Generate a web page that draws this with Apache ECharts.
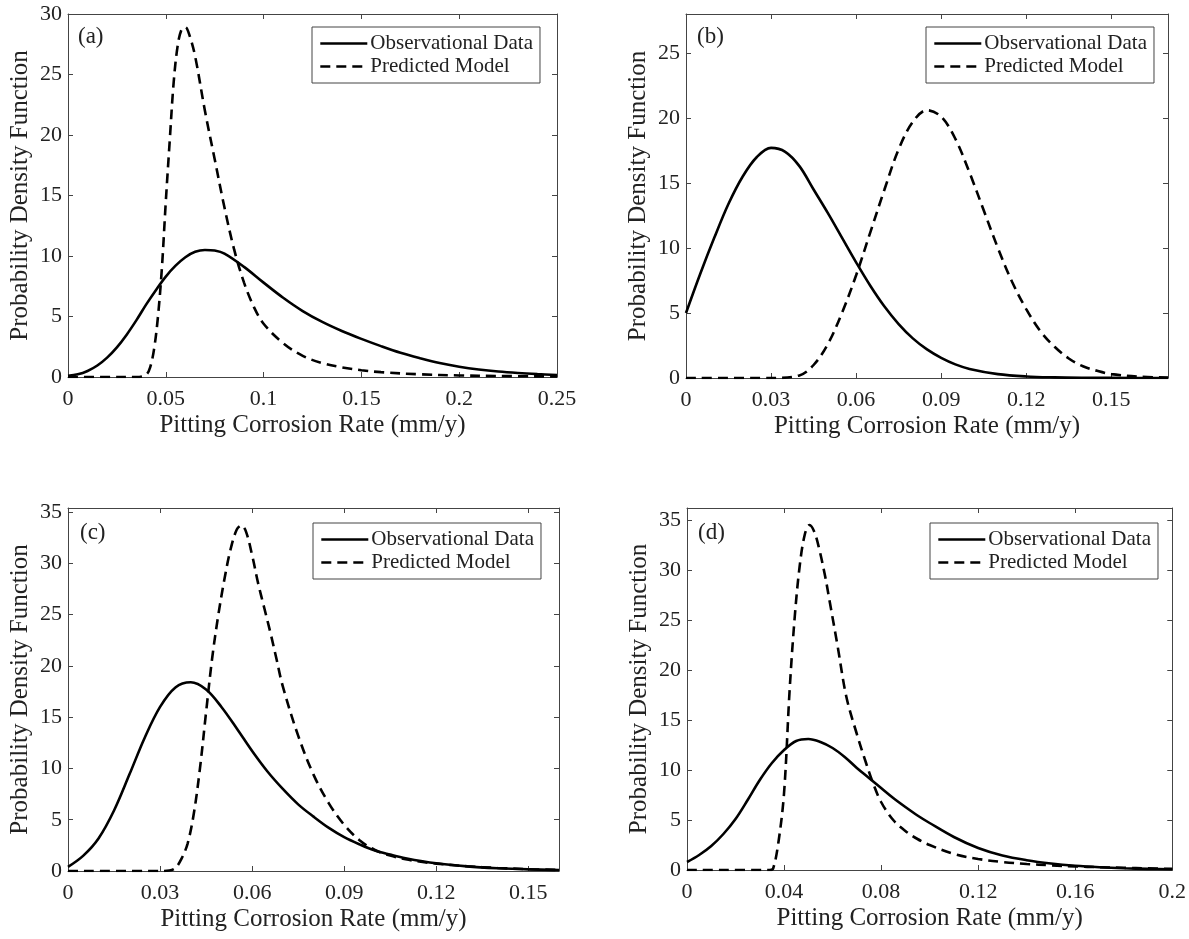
<!DOCTYPE html>
<html>
<head>
<meta charset="utf-8">
<script src="https://cdn.jsdelivr.net/npm/echarts@6/dist/echarts.min.js"></script>
<style>
html,body{margin:0;padding:0;background:#fff;}
#chart{width:1189px;height:939px;}
</style>
</head>
<body>
<div id="chart"></div>
<script>
// ---------- DATA ----------
const legendNames = ['Observational Data', 'Predicted Model'];
const panelLabels = ['(a)', '(b)', '(c)', '(d)'];
const xTitle = 'Pitting Corrosion Rate (mm/y)';
const yTitle = 'Probability Density Function';

// Panel (a)
const a_obs_x = [0,0.005,0.01,0.015,0.02,0.025,0.03,0.035,0.04,0.045,0.05,0.055,0.06,0.065,0.07,0.075,0.08,0.09,0.10,0.11,0.12,0.13,0.14,0.15,0.16,0.17,0.18,0.19,0.20,0.21,0.22,0.23,0.24,0.25];
const a_obs_y = [0.1,0.22,0.5,0.95,1.6,2.45,3.5,4.7,6.0,7.2,8.3,9.2,9.9,10.35,10.5,10.45,10.2,9.1,7.8,6.55,5.45,4.55,3.8,3.15,2.55,2.0,1.55,1.15,0.85,0.62,0.45,0.33,0.24,0.17];
const a_pred_x = [0,0.02,0.035,0.04,0.042,0.044,0.046,0.048,0.05,0.052,0.054,0.056,0.058,0.06,0.062,0.065,0.07,0.075,0.08,0.085,0.09,0.095,0.10,0.11,0.12,0.13,0.14,0.15,0.16,0.18,0.20,0.22,0.25];
const a_pred_y = [0,0,0,0.2,0.8,2.3,5.0,9.0,14.5,19.5,24.3,27.3,28.7,28.9,28.3,26.5,22.0,18.0,14.0,10.5,7.8,5.8,4.4,2.8,1.75,1.15,0.8,0.56,0.4,0.22,0.13,0.08,0.04];

// Panel (b)
const b_obs_x = [0,0.005,0.01,0.015,0.02,0.025,0.03,0.035,0.04,0.045,0.05,0.055,0.06,0.065,0.07,0.075,0.08,0.085,0.09,0.095,0.10,0.11,0.12,0.13,0.14,0.15,0.17];
const b_obs_y = [5.0,8.0,10.8,13.4,15.5,17.0,17.7,17.4,16.3,14.5,12.7,10.8,8.9,7.1,5.5,4.15,3.05,2.2,1.55,1.05,0.7,0.3,0.12,0.05,0.02,0.01,0];
const b_pred_x = [0,0.03,0.04,0.045,0.05,0.055,0.06,0.065,0.07,0.075,0.08,0.085,0.09,0.095,0.10,0.105,0.11,0.115,0.12,0.125,0.13,0.135,0.14,0.145,0.15,0.16,0.17];
const b_pred_y = [0,0,0.2,1.0,2.6,5.0,7.9,11.2,14.5,17.6,19.7,20.6,20.1,18.4,15.8,12.9,10.0,7.4,5.3,3.6,2.4,1.5,0.9,0.55,0.3,0.1,0.03];

// Panel (c)
const c_obs_x = [0,0.005,0.01,0.015,0.02,0.025,0.03,0.035,0.04,0.045,0.05,0.055,0.06,0.065,0.07,0.075,0.08,0.085,0.09,0.095,0.10,0.105,0.11,0.12,0.13,0.14,0.15,0.16];
const c_obs_y = [0.4,1.5,3.2,5.9,9.4,13.0,16.0,17.9,18.4,17.7,16.0,13.9,11.7,9.7,8.0,6.5,5.3,4.2,3.3,2.6,2.0,1.6,1.25,0.75,0.45,0.27,0.16,0.1];
const c_pred_x = [0,0.03,0.033,0.035,0.037,0.039,0.041,0.043,0.045,0.047,0.049,0.051,0.053,0.055,0.0565,0.058,0.06,0.062,0.064,0.066,0.068,0.07,0.075,0.08,0.085,0.09,0.095,0.10,0.105,0.11,0.115,0.12,0.13,0.14,0.15,0.16];
const c_pred_y = [0,0,0.05,0.3,1.2,2.7,5.6,10.0,15.5,20.8,25.0,28.5,31.4,33.3,33.7,33.1,30.8,28.0,25.6,23.2,20.6,18.0,13.2,9.4,6.6,4.5,3.0,2.05,1.5,1.15,0.9,0.72,0.46,0.3,0.18,0.1];

// Panel (d)
const d_obs_x = [0,0.005,0.01,0.015,0.02,0.025,0.03,0.035,0.04,0.045,0.05,0.055,0.06,0.065,0.07,0.075,0.08,0.085,0.09,0.095,0.10,0.11,0.12,0.13,0.14,0.15,0.16,0.17,0.18,0.19,0.20];
const d_obs_y = [0.8,1.5,2.4,3.6,5.1,7.0,9.0,10.7,12.0,12.9,13.1,12.8,12.2,11.3,10.2,9.2,8.2,7.2,6.3,5.45,4.7,3.3,2.2,1.45,0.98,0.65,0.42,0.27,0.17,0.11,0.07];
const d_pred_x = [0,0.034,0.0355,0.0377,0.04,0.0423,0.0444,0.0464,0.0485,0.0505,0.0525,0.0546,0.057,0.0587,0.062,0.0657,0.07,0.0738,0.0765,0.08,0.085,0.09,0.095,0.10,0.11,0.12,0.13,0.14,0.15,0.16,0.17,0.18,0.19,0.20];
const d_pred_y = [0,0,0.15,2.8,7.7,18.0,25.3,30.3,33.5,34.5,33.8,32.0,29.3,27.0,22.5,17.3,13.6,10.7,8.8,6.8,5.0,3.9,3.1,2.5,1.6,1.1,0.8,0.6,0.47,0.36,0.28,0.22,0.16,0.12];

// Axis ranges / tick steps
const xMax = [0.25, 0.17, 0.16, 0.2];
const xStep = [0.05, 0.03, 0.03, 0.04];
const yMax = [30, 28, 35.4, 36.2];
const yStep = [5, 5, 5, 5];

// ---------- LAYOUT / STYLE ----------
const FONT = '"Liberation Serif", "Times New Roman", serif';
const TXT = '#222';
const AX = '#444';
const grids = [
  {left: 68, top: 14, width: 489, height: 363},
  {left: 686, top: 14, width: 482, height: 364},
  {left: 68, top: 508, width: 491, height: 363},
  {left: 687, top: 508, width: 487, height: 362}
];
const legendPos = [
  {left: 312, top: 27},
  {left: 926, top: 27},
  {left: 313, top: 523},
  {left: 930, top: 523}
];
const labelPos = [[78, 25], [697, 25], [80, 521], [698, 521]];

const obsX = [a_obs_x, b_obs_x, c_obs_x, d_obs_x];
const obsY = [a_obs_y, b_obs_y, c_obs_y, d_obs_y];
const predX = [a_pred_x, b_pred_x, c_pred_x, d_pred_x];
const predY = [a_pred_y, b_pred_y, c_pred_y, d_pred_y];

function zip(xs, ys) { return xs.map((x, i) => [x, ys[i]]); }
function isMult(v, step) { const r = v / step; return Math.abs(r - Math.round(r)) < 1e-6; }
function fmt(v) { return String(parseFloat(v.toFixed(4))); }

const option = {
  animation: false,
  backgroundColor: '#fff',
  grid: [], xAxis: [], yAxis: [], series: [], legend: [], graphic: []
};

for (let p = 0; p < 4; p++) {
  option.grid.push(Object.assign({containLabel: false}, grids[p]));
  const axLine = {show: true, onZero: false, lineStyle: {color: AX, width: 1}};
  const tick = {show: true, inside: true, length: 5, lineStyle: {color: AX, width: 1}};
  option.xAxis.push({
    type: 'value', gridIndex: p, position: 'bottom', min: 0, max: xMax[p], interval: xStep[p],
    axisLine: axLine, axisTick: tick, splitLine: {show: false},
    axisLabel: {show: true, margin: 11, color: TXT, fontFamily: FONT, fontSize: 22,
      formatter: v => isMult(v, xStep[p]) ? fmt(v) : ''},
    name: xTitle, nameLocation: 'middle', nameGap: 36,
    nameTextStyle: {color: TXT, fontFamily: FONT, fontSize: 25}
  });
  option.xAxis.push({
    type: 'value', gridIndex: p, position: 'top', min: 0, max: xMax[p], interval: xStep[p],
    axisLine: axLine, axisTick: tick, splitLine: {show: false}, axisLabel: {show: false}
  });
  option.yAxis.push({
    type: 'value', gridIndex: p, position: 'left', min: 0, max: yMax[p], interval: yStep[p],
    axisLine: axLine, axisTick: tick, splitLine: {show: false},
    axisLabel: {show: true, margin: 6, color: TXT, fontFamily: FONT, fontSize: 22,
      formatter: v => isMult(v, yStep[p]) ? fmt(v) : ''},
    name: yTitle, nameLocation: 'middle', nameGap: 35, nameRotate: 90,
    nameTextStyle: {color: TXT, fontFamily: FONT, fontSize: 25}
  });
  option.yAxis.push({
    type: 'value', gridIndex: p, position: 'right', min: 0, max: yMax[p], interval: yStep[p],
    axisLine: axLine, axisTick: tick, splitLine: {show: false}, axisLabel: {show: false}
  });

  option.series.push({
    name: legendNames[0], type: 'line', xAxisIndex: 2 * p, yAxisIndex: 2 * p,
    data: zip(obsX[p], obsY[p]), showSymbol: false, symbol: 'none', symbolSize: 0,
    smooth: 0.35,
    lineStyle: {color: '#000', width: 2.6, type: 'solid'}, itemStyle: {color: '#000'}
  });
  option.series.push({
    name: legendNames[1], type: 'line', xAxisIndex: 2 * p, yAxisIndex: 2 * p,
    data: zip(predX[p], predY[p]), showSymbol: false, symbol: 'none', symbolSize: 0,
    smooth: 0.35,
    lineStyle: {color: '#000', width: 2.6, type: [10, 6]}, itemStyle: {color: '#000'}
  });

  option.legend.push({
    data: legendNames, orient: 'vertical', left: legendPos[p].left, top: legendPos[p].top,
    backgroundColor: '#fff', borderColor: '#444', borderWidth: 1, borderRadius: 0,
    padding: [6, 7, 6, 7], itemGap: 2, itemWidth: 47, itemHeight: 14,
    selectedMode: false,
    itemStyle: {opacity: 0, borderWidth: 0},
    lineStyle: {width: 2.6, color: '#000'},
    textStyle: {color: TXT, fontFamily: FONT, fontSize: 21, padding: [0, 0, 0, -2]}
  });

  option.graphic.push({
    type: 'text', left: labelPos[p][0], top: labelPos[p][1],
    style: {text: panelLabels[p], fill: TXT, font: '23px ' + FONT}
  });
}

const chart = echarts.init(document.getElementById('chart'), null, {renderer: 'canvas'});
chart.setOption(option);
</script>
</body>
</html>
